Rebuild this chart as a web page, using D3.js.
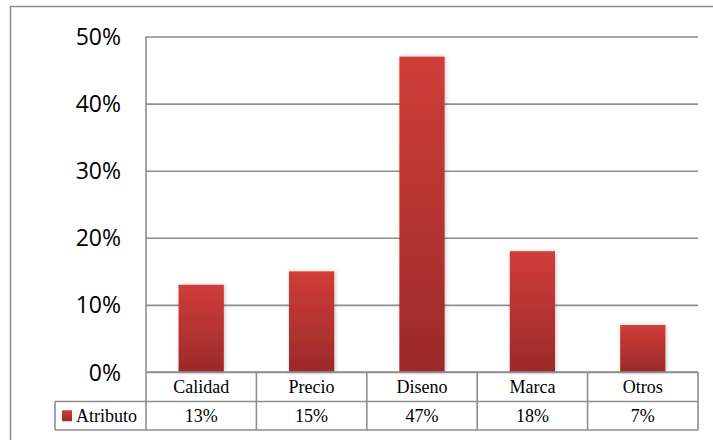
<!DOCTYPE html>
<html>
<head>
<meta charset="utf-8">
<script src="https://cdn.jsdelivr.net/npm/d3@7"></script>
<style>
  html, body { margin: 0; padding: 0; background: #fff; }
  svg { display: block; }
</style>
</head>
<body>
<svg id="chart" width="713" height="440"></svg>
<script>
// Share of respondents by the attribute that drives their choice
const categories = ["Calidad", "Precio", "Diseno", "Marca", "Otros"];
const values = [0.13, 0.15, 0.47, 0.18, 0.07];
const seriesName = "Atributo";
const yTicks = [0, 0.1, 0.2, 0.3, 0.4, 0.5];

const svg = d3.select("#chart");
const plot = { left: 146, right: 698, top: 36.5, bottom: 372 };
const rowH = [29.5, 28.5];
const legendLeft = 55;
const gridColor = "#8e8e8e";

const x = d3.scaleBand()
  .domain(categories)
  .range([plot.left, plot.right])
  .paddingInner(0.59)
  .paddingOuter(0.295);

const y = d3.scaleLinear()
  .domain([0, 0.5])
  .range([plot.bottom, plot.top]);

// Outer frame (continues past the right and bottom edges)
svg.append("path")
  .attr("d", `M 720 6.5 H 10.5 V 450`)
  .attr("fill", "none")
  .attr("stroke", "#8a8a8a")
  .attr("stroke-width", 1.5);

const defs = svg.append("defs");
const grad = defs.append("linearGradient")
  .attr("id", "barFill")
  .attr("x1", 0).attr("y1", 0).attr("x2", 0).attr("y2", 1);
grad.append("stop").attr("offset", "0%").attr("stop-color", "#d03d38");
grad.append("stop").attr("offset", "100%").attr("stop-color", "#9b2a2a");

const shadow = defs.append("filter")
  .attr("id", "barShadow")
  .attr("x", "-30%").attr("y", "-10%").attr("width", "160%").attr("height", "120%");
shadow.append("feDropShadow")
  .attr("dx", 1).attr("dy", 0)
  .attr("stdDeviation", 2)
  .attr("flood-color", "#000")
  .attr("flood-opacity", 0.22);

// Value axis with gridlines
const yAxis = d3.axisLeft(y)
  .tickValues(yTicks)
  .tickFormat(d3.format(".0%"))
  .tickSizeInner(-(plot.right - plot.left))
  .tickSizeOuter(0)
  .tickPadding(25);

const gy = svg.append("g")
  .attr("transform", `translate(${plot.left},0)`)
  .call(yAxis);
gy.select(".domain").remove();
gy.selectAll(".tick line")
  .attr("stroke", gridColor)
  .attr("stroke-width", 1.6);
gy.selectAll(".tick text")
  .attr("fill", "#000")
  .attr("font-family", "'Open Sans', 'Noto Sans', sans-serif")
  .attr("font-size", 23)
  .attr("dy", "0.35em");

// Vertical axis line
svg.append("line")
  .attr("x1", plot.left).attr("x2", plot.left)
  .attr("y1", plot.top).attr("y2", plot.bottom)
  .attr("stroke", gridColor)
  .attr("stroke-width", 1.6);

// Bars
svg.append("g")
  .selectAll("rect")
  .data(categories.map((c, i) => ({ c, v: values[i] })))
  .join("rect")
  .attr("x", d => x(d.c))
  .attr("width", x.bandwidth())
  .attr("y", d => y(d.v))
  .attr("height", d => y(0) - y(d.v))
  .attr("fill", "url(#barFill)")
  .attr("filter", "url(#barShadow)");

// Data table below the plot
const half = (x.step() - x.bandwidth()) / 2;
const cellLeft = c => x(c) - half;
const r0 = plot.bottom, r1 = r0 + rowH[0], r2 = r1 + rowH[0 + 1];
const table = svg.append("g")
  .attr("fill", "none")
  .attr("stroke", gridColor)
  .attr("stroke-width", 1.6);

// horizontal rules
table.append("line").attr("x1", plot.left).attr("x2", plot.right).attr("y1", r0).attr("y2", r0);
table.append("line").attr("x1", legendLeft).attr("x2", plot.right).attr("y1", r1).attr("y2", r1);
table.append("line").attr("x1", legendLeft).attr("x2", plot.right).attr("y1", r2).attr("y2", r2);
// vertical rules
table.append("line").attr("x1", legendLeft).attr("x2", legendLeft).attr("y1", r1).attr("y2", r2);
table.selectAll("line.col")
  .data(categories)
  .join("line")
  .attr("class", "col")
  .attr("x1", c => cellLeft(c)).attr("x2", c => cellLeft(c))
  .attr("y1", r0).attr("y2", r2);
table.append("line").attr("x1", plot.right).attr("x2", plot.right).attr("y1", r0).attr("y2", r2);

const serif = "'Liberation Serif', 'Times New Roman', serif";
svg.append("g")
  .selectAll("text")
  .data(categories)
  .join("text")
  .attr("x", c => x(c) + x.bandwidth() / 2)
  .attr("y", (r0 + r1) / 2)
  .attr("dy", "0.35em")
  .attr("text-anchor", "middle")
  .attr("font-family", serif)
  .attr("font-size", 18)
  .attr("fill", "#000")
  .text(c => c);

svg.append("g")
  .selectAll("text")
  .data(categories.map((c, i) => ({ c, v: values[i] })))
  .join("text")
  .attr("x", d => x(d.c) + x.bandwidth() / 2)
  .attr("y", (r1 + r2) / 2)
  .attr("dy", "0.35em")
  .attr("text-anchor", "middle")
  .attr("font-family", serif)
  .attr("font-size", 18)
  .attr("fill", "#000")
  .text(d => d3.format(".0%")(d.v));

// Legend key in the table
svg.append("rect")
  .attr("x", 62).attr("y", (r1 + r2) / 2 - 5.5)
  .attr("width", 10).attr("height", 11)
  .attr("fill", "url(#barFill)");
svg.append("text")
  .attr("x", 76)
  .attr("y", (r1 + r2) / 2)
  .attr("dy", "0.35em")
  .attr("font-family", serif)
  .attr("font-size", 18)
  .attr("fill", "#000")
  .text(seriesName);
</script>
</body>
</html>
